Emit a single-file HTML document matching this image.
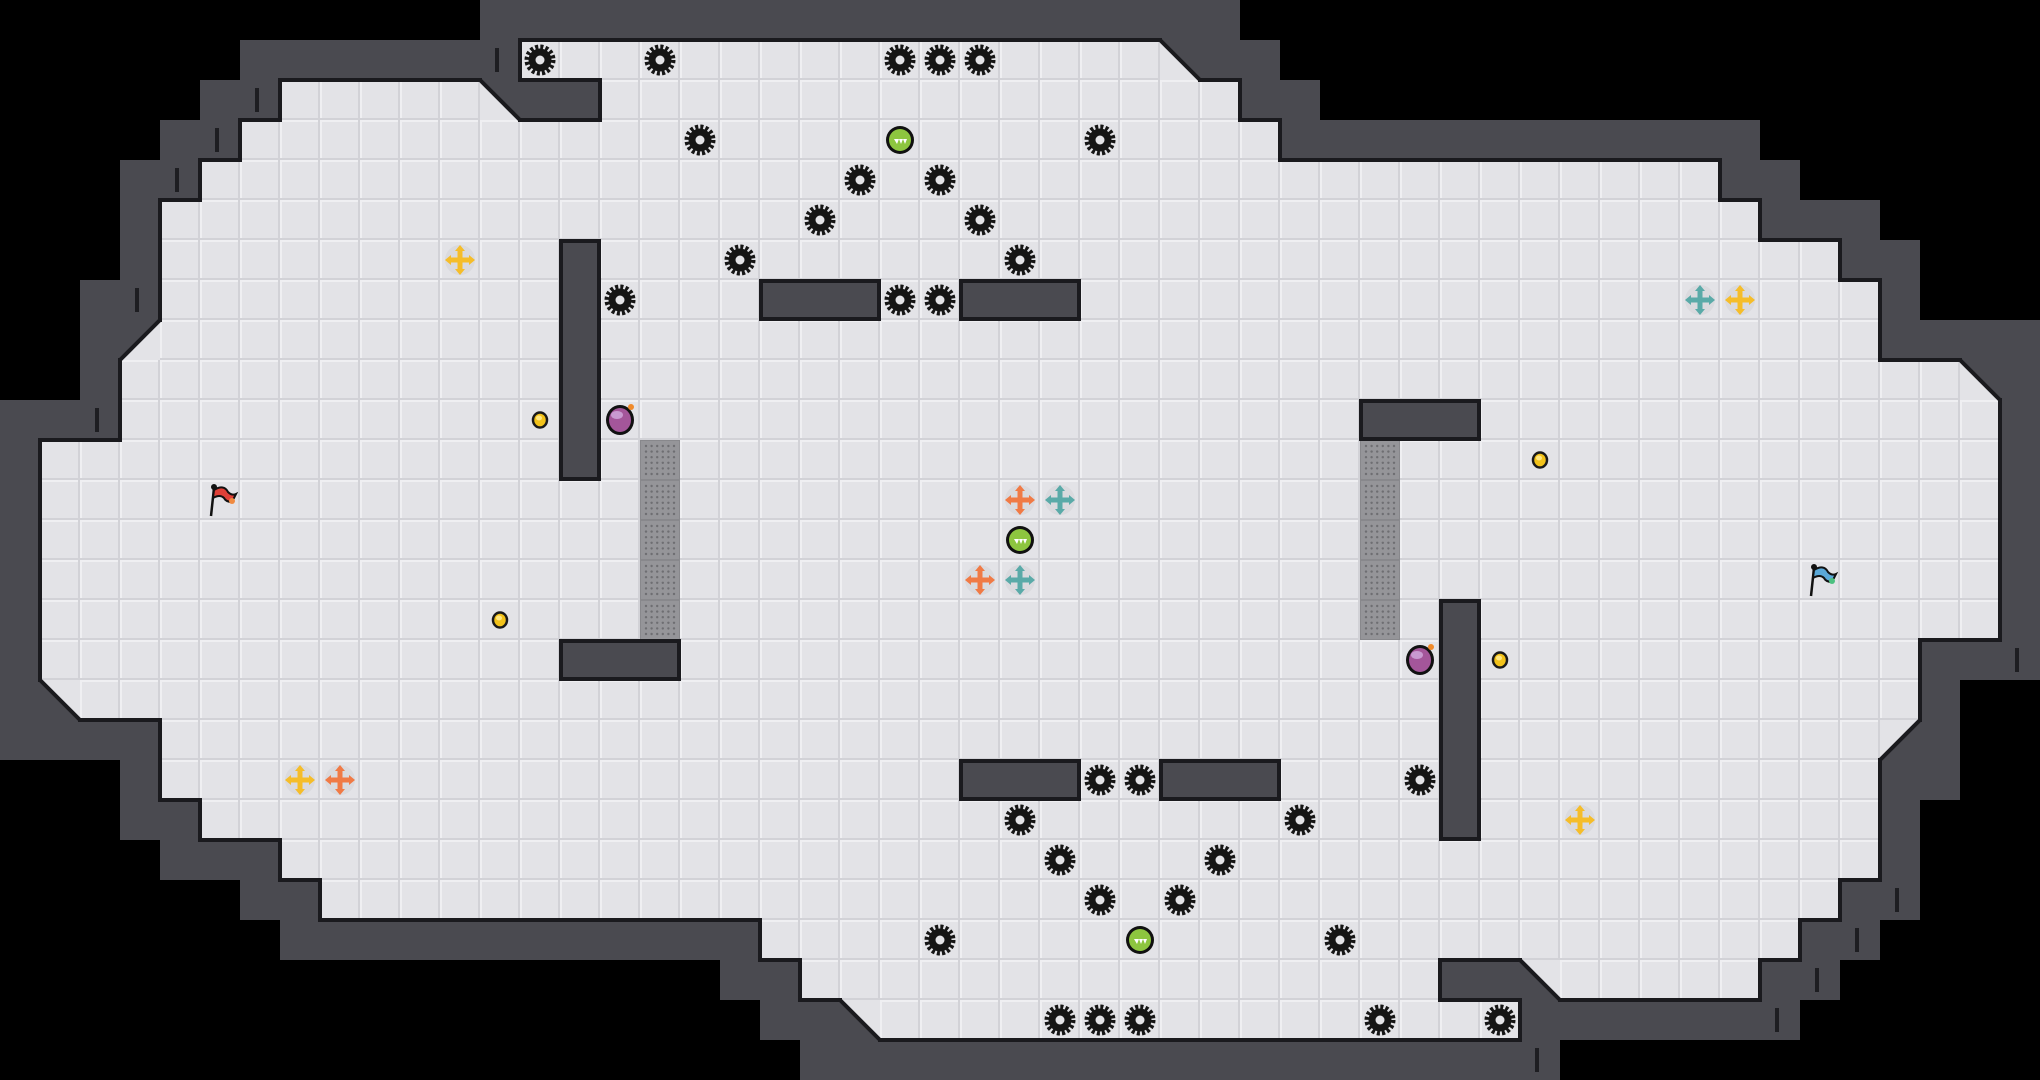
<!DOCTYPE html>
<html><head><meta charset="utf-8"><style>
html,body{margin:0;padding:0;background:#000;width:2040px;height:1080px;overflow:hidden}
svg{display:block}
</style></head><body>
<svg id="s" width="2040" height="1080" xmlns="http://www.w3.org/2000/svg">
<defs>
<pattern id="tile" width="40" height="40" patternUnits="userSpaceOnUse">
<rect width="40" height="40" fill="#e3e3e7"/>
<rect x="0" y="0" width="40" height="2" fill="#efeff2"/>
<rect x="0" y="0" width="2" height="40" fill="#efeff2"/>
<rect x="0" y="38" width="40" height="2" fill="#d2d2d7"/>
<rect x="38" y="0" width="2" height="40" fill="#d2d2d7"/>
</pattern>
<pattern id="grate" width="40" height="40" patternUnits="userSpaceOnUse">
<rect width="40" height="40" fill="#88888c"/>
<rect x="1" y="1" width="38" height="38" fill="#959599"/>
</pattern>
<g id="saw">
<circle r="13" fill="none" stroke="#151515" stroke-width="5" stroke-dasharray="3 2.1"/>
<circle r="11.5" fill="#151515"/>
<circle r="4.5" fill="#e3e3e7"/>
</g>
<g id="coin"><ellipse rx="7" ry="7.5" fill="#f2c21a" stroke="#1a1a1a" stroke-width="2.5"/><ellipse cx="-1" cy="-2" rx="3" ry="2.5" fill="#ffe680"/></g>
<g id="ball"><circle r="14" fill="#111"/><circle r="11" fill="#8dc63f"/><path d="M-6 -1 l3 5 l2 -5 l2 5 l2 -5 l2 5 l2 -5z" fill="#fff"/></g>
<g id="bomb"><ellipse rx="14" ry="15" fill="#111"/><ellipse rx="11" ry="12" fill="#a4569a"/><ellipse cx="-3" cy="-5" rx="6" ry="4" fill="#c89ad0"/><circle cx="11" cy="-13" r="3" fill="#f08a2a"/></g>
</defs>
</svg>
<script>
var S=document.getElementById('s'),NS='http://www.w3.org/2000/svg',C=40;
function el(t,a){var e=document.createElementNS(NS,t);for(var k in a)e.setAttribute(k,a[k]);S.appendChild(e);return e;}
var rows={1:[[13,28]],2:[[7,11],[15,30]],3:[[6,31]],4:[[5,42]],5:[[4,43]],6:[[4,45]],7:[[4,46]],8:[[4,46]],9:[[3,48]],10:[[3,49]],11:[[1,49]],12:[[1,49]],13:[[1,49]],14:[[1,49]],15:[[1,49]],16:[[1,47]],17:[[2,47]],18:[[4,46]],19:[[4,46]],20:[[5,46]],21:[[7,46]],22:[[8,45]],23:[[19,44]],24:[[20,35],[39,43]],25:[[22,37]]};
var diag=[[12,2,'ll'],[29,1,'ll'],[3,8,'lr'],[49,9,'ll'],[1,17,'ur'],[47,18,'ul'],[21,25,'ur'],[38,24,'ur']];
var F={};
for(var r in rows)rows[r].forEach(function(g){for(var c=g[0];c<=g[1];c++)F[c+','+r]=1;});
var D={};diag.forEach(function(d){D[d[0]+','+d[1]]=d[2];});
var W={};
function isF(c,r){return F[c+','+r]||D[c+','+r];}
for(var r=0;r<27;r++)for(var c=0;c<51;c++){if(isF(c,r))continue;for(var dy=-1;dy<=1;dy++)for(var dx=-1;dx<=1;dx++)if(isF(c+dx,r+dy))W[c+','+r]=1;}
for(var k in W){var p=k.split(',');el('rect',{x:p[0]*C,y:p[1]*C,width:C,height:C,fill:'#4a4a50'});}
for(var k in D){var p=k.split(',');el('rect',{x:p[0]*C,y:p[1]*C,width:C,height:C,fill:'#4a4a50'});}
for(var k in F){var p=k.split(',');el('rect',{x:p[0]*C,y:p[1]*C,width:C,height:C,fill:'url(#tile)'});}
diag.forEach(function(d){var x=d[0]*C,y=d[1]*C,pts,ln;
 if(d[2]=='ll'){pts=[[x,y],[x,y+C],[x+C,y+C]];ln=[[x,y],[x+C,y+C]];}
 if(d[2]=='lr'){pts=[[x+C,y],[x+C,y+C],[x,y+C]];ln=[[x+C,y],[x,y+C]];}
 if(d[2]=='ur'){pts=[[x,y],[x+C,y],[x+C,y+C]];ln=[[x,y],[x+C,y+C]];}
 if(d[2]=='ul'){pts=[[x,y],[x+C,y],[x,y+C]];ln=[[x+C,y],[x,y+C]];}
 el('polygon',{points:pts.map(function(q){return q.join(',')}).join(' '),fill:'#e3e3e7'});
 el('line',{x1:ln[0][0],y1:ln[0][1],x2:ln[1][0],y2:ln[1][1],stroke:'#1a1a1e','stroke-width':4});
});
for(var k in F){var p=k.split(','),c=+p[0],r=+p[1],x=c*C,y=r*C;
 function E(x1,y1,x2,y2){el('line',{x1:x1,y1:y1,x2:x2,y2:y2,stroke:'#1a1a1e','stroke-width':4,'stroke-linecap':'square'});}
 if(!isF(c,r-1))E(x,y,x+C,y);
 if(!isF(c,r+1))E(x,y+C,x+C,y+C);
 if(!isF(c-1,r))E(x,y,x,y+C);
 if(!isF(c+1,r))E(x+C,y,x+C,y+C);
}
[16,34].forEach(function(c){for(var r=11;r<=15;r++){el('rect',{x:c*C,y:r*C,width:C,height:C,fill:'url(#grate)'});
 for(var i=0;i<6;i++)for(var j=0;j<6;j++)el('circle',{cx:c*C+6+i*5.6,cy:r*C+6+j*5.6,r:1.2,fill:'#6e6e72'});}});
[[14,6,1,6],[19,7,3,1],[24,7,3,1],[34,10,3,1],[14,16,3,1],[24,19,3,1],[29,19,3,1],[36,15,1,6]].forEach(function(w){
 el('rect',{x:w[0]*C+1,y:w[1]*C+1,width:w[2]*C-2,height:w[3]*C-2,fill:'#4a4a50',stroke:'#1a1a1e','stroke-width':4});});
[[12,1],[6,2],[5,3],[4,4],[3,7],[2,10],[50,16],[47,22],[46,23],[45,24],[44,25],[38,26]].forEach(function(t){
 el('rect',{x:t[0]*C+15,y:t[1]*C+8,width:4,height:24,fill:'#1e1e22'});});
function use(id,c,r){el('use',{href:'#'+id,x:c*C+20,y:r*C+20});}
[[13,1],[16,1],[22,1],[23,1],[24,1],[17,3],[27,3],[21,4],[23,4],[20,5],[24,5],[18,6],[25,6],[15,7],[22,7],[23,7],[27,19],[28,19],[35,19],[25,20],[32,20],[26,21],[30,21],[27,22],[29,22],[23,23],[33,23],[26,25],[27,25],[28,25],[34,25],[37,25]].forEach(function(p){use('saw',p[0],p[1]);});
[[22,3],[25,13],[28,23]].forEach(function(p){use('ball',p[0],p[1]);});
[[15,10],[35,16]].forEach(function(p){use('bomb',p[0],p[1]);});
[[13,10],[12,15],[38,11],[37,16]].forEach(function(p){use('coin',p[0],p[1]);});
function arrow(c,r,col){var x=c*C+20,y=r*C+20;
 el('circle',{cx:x,cy:y,r:15,fill:'#d6d6da',opacity:0.7});
 el('path',{d:'M'+(x-2.5)+' '+(y-9)+'h5v6.5h6.5v5h-6.5v6.5h-5v-6.5h-6.5v-5h6.5z',fill:col});
 el('path',{d:'M'+x+' '+(y-15)+'l5 6h-10z M'+x+' '+(y+15)+'l5 -6h-10z M'+(x-15)+' '+y+'l6 5v-10z M'+(x+15)+' '+y+'l-6 5v-10z',fill:col});}
var Y='#f5bd2a',O='#f07a45',T='#5aaaa8';
arrow(11,6,Y);arrow(42,7,T);arrow(43,7,Y);arrow(25,12,O);arrow(26,12,T);arrow(24,14,O);arrow(25,14,T);arrow(7,19,Y);arrow(8,19,O);arrow(39,20,Y);
function flag(c,r,col,col2){var x=c*C+20,y=r*C+20;
 el('line',{x1:x-9,y1:y+16,x2:x-6,y2:y-12,stroke:'#111','stroke-width':2.5});
 el('circle',{cx:x-6,cy:y-13,r:3,fill:'#111'});
 el('path',{d:'M'+(x-6)+' '+(y-10)+'q10 -6 14 2 q4 4 8 2 l-4 8 q-6 0 -8 -4 q-4 -4 -11 0z',fill:col,stroke:'#111','stroke-width':2});
 el('circle',{cx:x+12,cy:y+1,r:3,fill:col2});}
flag(5,12,'#e04038','#f08a40');flag(45,14,'#5aa8d8','#4cc080');
</script>
</body></html>
